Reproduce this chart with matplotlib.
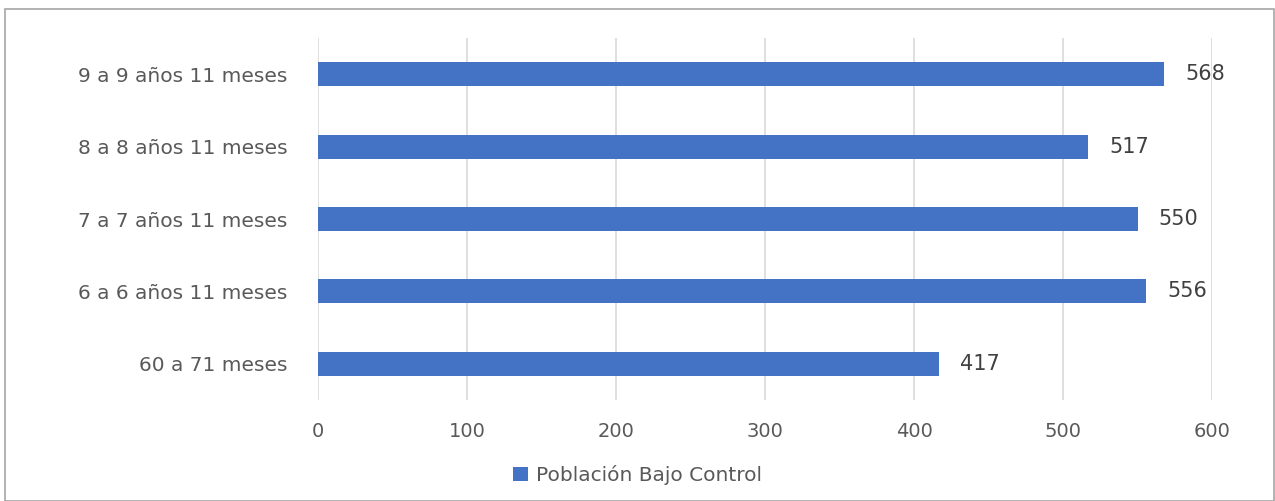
import matplotlib.pyplot as plt
from matplotlib.patches import Rectangle

categorias = ["60 a 71 meses", "6 a 6 años 11 meses", "7 a 7 años 11 meses",
              "8 a 8 años 11 meses", "9 a 9 años 11 meses"]
valores = [417, 556, 550, 517, 568]
serie = "Población Bajo Control"
ticks_x = [0, 100, 200, 300, 400, 500, 600]

azul = "#4472C4"
gris = "#595959"

fig = plt.figure(figsize=(12.75, 5.01), dpi=100)
ax = fig.add_axes([0.2494, 0.2016, 0.7012, 0.7224])

barras = ax.barh(range(len(categorias)), valores, height=0.33, color=azul, label=serie)
for b, v in zip(barras, valores):
    ax.text(v + 14, b.get_y() + b.get_height() / 2, str(v), va="center", ha="left",
            fontsize=15, color="#404040")

ax.set_xlim(0, 600)
ax.set_ylim(-0.5, len(categorias) - 0.5)
ax.set_xticks(ticks_x)
ax.set_xticklabels([str(t) for t in ticks_x], fontsize=14, color=gris)
ax.set_yticks(range(len(categorias)))
ax.set_yticklabels(categorias, fontsize=14.5, color=gris)
ax.tick_params(length=0, pad=16)
ax.tick_params(axis="y", pad=22)
ax.grid(axis="x", color="#D9D9D9", linewidth=1.2)
ax.set_axisbelow(True)
for s in ax.spines.values():
    s.set_visible(False)

fig.legend(handles=[barras], labels=[serie], loc="center", bbox_to_anchor=(0.5, 0.052),
           frameon=False, fontsize=14.5, labelcolor=gris, handlelength=0.7, handleheight=0.7,
           handletextpad=0.4)

fig.patches.append(Rectangle((0.004, 0.0), 0.995, 0.982, transform=fig.transFigure,
                             fill=False, edgecolor="#A6A6A6", linewidth=1.2))

fig.savefig("out.png", dpi=100)
